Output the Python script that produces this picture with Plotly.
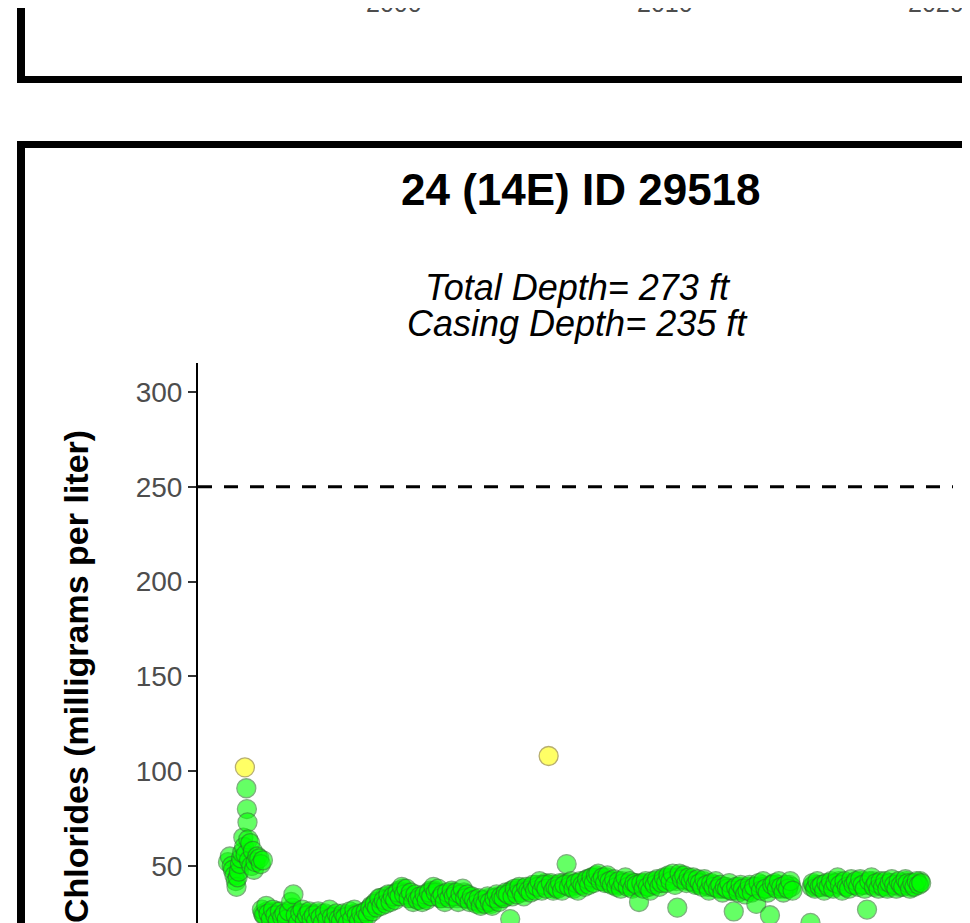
import plotly.graph_objects as go

SHIFT = 8  # the page body adds an 8px margin; layout numbers below are screen pixels
W, H = 970, 923
LEFT, RIGHT, TOP = 198, 953, 363  # panel edges on screen (bottom runs off the page)

TITLE = "24 (14E) ID 29518"
SUBTITLE = [" Total Depth= 273 ft", "Casing Depth= 235 ft"]
Y_TITLE = "Chlorides (milligrams per liter)"
Y_TICKS = [50, 100, 150, 200, 250, 300]
TOP_PANEL_TICKS = [2000, 2010, 2020]
LIMIT = 250
X_RANGE = ["1992-10-07", "2020-08-17"]
Y_RANGE = [15.7, 315.3]

# first year of sampling (irregular dates)
early_dates = [
    "1993-11-15", "1993-12-10", "1994-01-05", "1994-01-20", "1994-02-10",
    "1994-03-01", "1994-03-10", "1994-03-25", "1994-04-10", "1994-04-25",
    "1994-05-10", "1994-05-25", "1994-06-10", "1994-06-20", "1994-07-01",
    "1994-07-10", "1994-07-20", "1994-07-28", "1994-08-05", "1994-08-15",
    "1994-08-25", "1994-09-10", "1994-09-25", "1994-10-15", "1994-10-30",
    "1994-11-20", "1994-12-15", "1995-01-10", "1995-02-01", "1995-03-01",
]
early_values = [
    52, 55, 50, 48, 45,
    42, 39, 44, 47, 51,
    54, 57, 65, 60, 102,
    56, 91, 80, 73, 64,
    53, 62, 50, 58, 48,
    52, 55, 54, 51, 53,
]

# later samples, one row per year (None = no sample)
band_years = list(range(1995, 2020))
# taken mid-month
mid_month_values = [
    [None, 27, 24, 29, 25, 22, 27, 24, 21, 26, 23, 25],  # 1995
    [22, 26, 31, 35, 24, 20, 25, 27, 21, 24, 26, 22],
    [24, 21, 26, 23, 20, 25, 22, 27, 23, 21, 25, 22],
    [21, 25, 23, 20, 26, 22, 27, 24, 21, 25, 22, 26],
    [24, 28, 26, 30, 28, 33, 29, 32, 30, 35, 31, 34],
    [32, 36, 34, 39, 35, 38, 33, 36, 31, 35, 32, 34],  # 2000
    [31, 35, 32, 36, 34, 39, 36, 38, 33, 35, 31, 36],
    [33, 37, 34, 36, 31, 35, 38, 33, 35, 31, 34, 32],
    [30, 33, 29, 32, 30, 34, 31, 29, 33, 35, 31, 34],
    [33, 36, 35, 22, 34, 38, 35, 39, 36, 34, 39, 37],
    [36, 40, 37, 39, 42, 37, 40, 38, 108, 41, 37, 39],  # 2005
    [38, 41, 37, 40, 51, 39, 42, 38, 41, 37, 42, 40],
    [39, 43, 40, 44, 41, 45, 46, 42, 44, 41, 45, 42],
    [40, 43, 39, 42, 38, 41, 44, 39, 42, 38, 41, 40],
    [31, 41, 38, 42, 39, 37, 42, 40, 43, 39, 41, 44],
    [41, 45, 42, 46, 40, 28, 46, 43, 45, 41, 44, 42],  # 2010
    [44, 40, 43, 41, 39, 43, 40, 37, 41, 39, 42, 38],
    [40, 36, 39, 38, 41, 37, 26, 39, 36, 40, 38, 35],
    [37, 40, 36, 39, 30, 41, 37, 42, 38, 36, 24, 40],
    [41, 38, 42, 39, 36, 40, 38, 42, 37, None, None, None],
    [None, None, None, None, 20, 41, 38, 42, 39, 40, 37, 41],  # 2015
    [39, 42, 38, 41, 44, 40, 37, 42, 39, 38, 43, 40],
    [42, 39, 43, 40, 38, 27, 42, 44, 39, 41, 38, 42],
    [39, 42, 38, 41, 43, 40, 38, 42, 40, 39, 43, 41],
    [38, 41, 39, 42, 40, 41, None, None, None, None, None, None],
]
# taken on the first of the month
first_of_month_values = [
    [None, None, 25, 24, 26, 23, 25, 24, 26, 22, 24, 23],  # 1995
    [24, 23, 25, 28, 26, 23, 24, 22, 25, 23, 24, 25],
    [22, 24, 23, 25, 22, 23, 24, 22, 23, 24, 22, 23],
    [23, 22, 24, 23, 22, 24, 23, 25, 24, 23, 25, 24],
    [26, 27, 29, 28, 31, 30, 33, 31, 34, 32, 33, 35],
    [35, 34, 37, 36, 38, 36, 35, 34, 33, 34, 33, 32],  # 2000
    [33, 34, 33, 35, 37, 36, 37, 35, 34, 33, 34, 35],
    [35, 34, 36, 35, 33, 34, 35, 36, 33, 34, 32, 33],
    [32, 31, 31, 30, 32, 31, 33, 30, 32, 33, 34, 33],
    [34, 35, 34, 36, 37, 36, 37, 38, 37, 38, 37, 38],
    [38, 39, 38, 40, 39, 40, 39, 41, 40, 39, 40, 38],  # 2005
    [39, 40, 39, 41, 40, 41, 40, 39, 40, 41, 40, 41],
    [42, 41, 43, 42, 44, 43, 44, 43, 42, 43, 44, 41],
    [42, 41, 40, 41, 40, 42, 41, 40, 41, 40, 39, 41],
    [40, 39, 40, 41, 40, 39, 40, 41, 42, 41, 42, 43],
    [43, 44, 43, 44, 43, 42, 44, 45, 44, 43, 42, 43],  # 2010
    [42, 41, 42, 40, 41, 42, 40, 39, 40, 39, 40, 39],
    [39, 38, 38, 39, 38, 37, 38, 37, 38, 39, 37, 38],
    [38, 39, 38, 37, 39, 38, 39, 40, 39, 38, 39, 40],
    [40, 39, 40, 38, 39, 38, 39, 40, 39, None, None, None],
    [None, None, None, None, None, 39, 40, 39, 40, 39, 40, 39],  # 2015
    [40, 41, 40, 39, 41, 42, 40, 41, 39, 40, 41, 40],
    [41, 40, 41, 42, 40, 41, 40, 41, 42, 40, 41, 40],
    [40, 41, 40, 39, 41, 40, 41, 40, 39, 41, 40, 42],
    [40, 39, 41, 40, 41, 42, None, None, None, None, None, None],
]

dates = list(early_dates)
values = list(early_values)
for day, table in (("01", first_of_month_values), ("15", mid_month_values)):
    for year, row in zip(band_years, table):
        for month, v in enumerate(row, start=1):
            if v is not None:
                dates.append(f"{year}-{month:02d}-{day}")
                values.append(v)

fills = ["#FFFF00" if v >= 100 else "#00FF00" for v in values]
edges = ["#8A7A10" if v >= 100 else "#2A7A2A" for v in values]

PLOT_L, PLOT_R, PLOT_T = LEFT - SHIFT, RIGHT - SHIFT, TOP - SHIFT


def px(x):
    return (x - SHIFT - PLOT_L) / (PLOT_R - PLOT_L)


def py(y):
    return (H - (y - SHIFT)) / (H - PLOT_T)


FONT = "Liberation Sans, Arial, sans-serif"

fig = go.Figure(
    go.Scatter(
        x=dates,
        y=values,
        mode="markers",
        marker=dict(size=19, color=fills, opacity=0.6, line=dict(color=edges, width=1.3)),
        showlegend=False,
    )
)

bars = [
    (17, 25, -20, 83),   # left edge of the panel above
    (17, 990, 76, 83),   # bottom edge of the panel above
    (17, 990, 141, 148), # top edge of this panel
    (17, 25, 141, 960),  # left edge of this panel
]
shapes = [
    dict(type="rect", xref="paper", yref="paper", x0=px(a), x1=px(b), y0=py(d), y1=py(c),
         fillcolor="black", line=dict(width=0))
    for a, b, c, d in bars
]
shapes.append(
    dict(type="line", xref="paper", yref="y", x0=0, x1=1, y0=LIMIT, y1=LIMIT,
         line=dict(color="black", width=3, dash="14px,12px"))
)


def label(text, x, y, size, **kw):
    return dict(text=text, x=px(x), y=py(y), xref="paper", yref="paper",
                xanchor="center", yanchor="middle", showarrow=False,
                font=dict(size=size, color="black", family=FONT), **kw)


annotations = [
    label(f"<b>{TITLE}</b>", 581, 190, 44),
    label(f"<i>{SUBTITLE[0]}</i>", 573, 287, 36),
    label(f"<i>{SUBTITLE[1]}</i>", 577, 323, 36),
    label(f"<b>{Y_TITLE}</b>", 76, 677, 34, textangle=-90),
]
for yr in TOP_PANEL_TICKS:
    annotations.append(
        dict(text=str(yr), x=f"{yr}-01-01", xref="x", y=py(2.5), yref="paper",
             xanchor="center", yanchor="middle", showarrow=False,
             font=dict(size=25, color="#4D4D4D", family=FONT))
    )

fig.update_layout(
    width=W,
    height=H,
    margin=dict(l=PLOT_L, r=W - PLOT_R, t=PLOT_T, b=0, pad=0),
    paper_bgcolor="white",
    plot_bgcolor="white",
    shapes=shapes,
    annotations=annotations,
    xaxis=dict(type="date", range=X_RANGE, showgrid=False, zeroline=False,
               showline=False, showticklabels=False, ticks=""),
    yaxis=dict(range=Y_RANGE, tickvals=Y_TICKS, ticks="outside", ticklen=8, tickwidth=1.5,
               tickcolor="#333333", showline=True, linecolor="black", linewidth=2,
               showgrid=False, zeroline=False,
               tickfont=dict(size=28, color="#4D4D4D", family=FONT)),
)

fig.write_html("out.html")
